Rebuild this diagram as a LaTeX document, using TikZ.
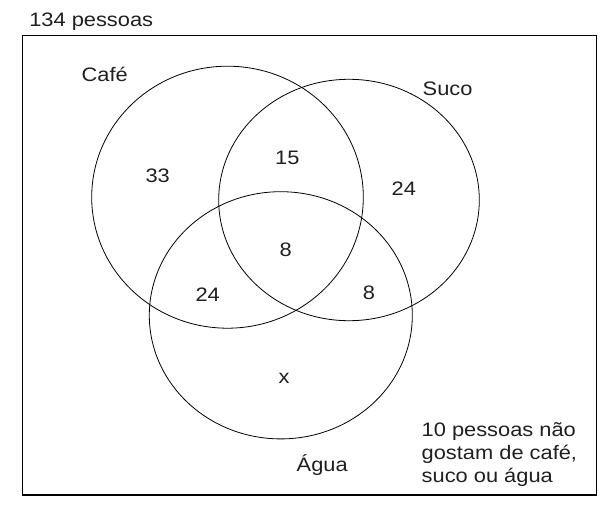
\documentclass[tikz,border=0pt]{standalone}
\usepackage{fontspec}
\setmainfont{Liberation Sans}[FakeStretch=1.12]
\begin{document}
\begin{tikzpicture}[x=1pt,y=-1pt,
  lbl/.style={inner sep=0pt,outer sep=0pt,text=black!88,font=\fontsize{19.5}{22.8}\selectfont},
  venn/.style={draw=black,line width=0.8pt},
  frame/.style={draw=black,line width=1.4pt}]
\useasboundingbox (0,0) rectangle (606,506);
\draw[frame] (22.3,35.7) rectangle (596.5,495);
\draw[venn] (227.5,197.2) ellipse [x radius=135.8pt, y radius=131pt];
\draw[venn] (349,200) ellipse [x radius=130.3pt, y radius=120.7pt];
\draw[venn] (280.8,315.3) ellipse [x radius=131.5pt, y radius=123.6pt];
\node[lbl,anchor=base west] (total) at (29.3,26.3) {134 pessoas};
\node[lbl,anchor=base west] (cafe) at (81.7,81) {Café};
\node[lbl,anchor=base west] (suco) at (422.7,95) {Suco};
\node[lbl,anchor=base west] (agua) at (296.7,471.7) {Água};
\node[lbl] (n33) at (157.7,175.7) {33};
\node[lbl] (n15) at (287.3,158.3) {15};
\node[lbl] (n24s) at (403.8,188.3) {24};
\node[lbl] (n8c) at (285.7,249.3) {8};
\node[lbl] (n24a) at (207.7,294.3) {24};
\node[lbl] (n8s) at (369,292.3) {8};
\node[lbl] (nx) at (284,378) {x};
\node[lbl,anchor=base west,align=left] (none) at (421.7,482.3) {10 pessoas não\\gostam de café,\\suco ou água};
\end{tikzpicture}
\end{document}
